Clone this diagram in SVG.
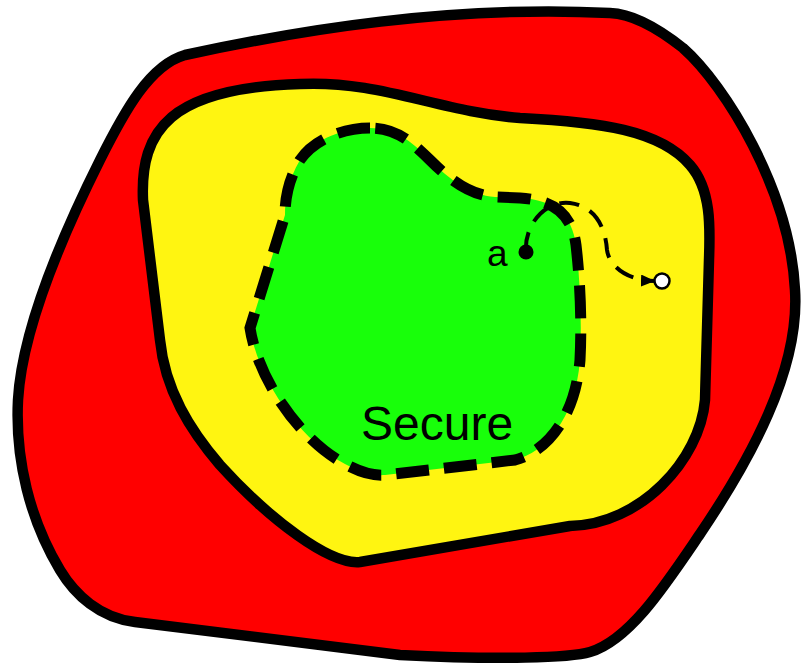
<svg xmlns="http://www.w3.org/2000/svg" width="802" height="667" viewBox="0 0 802 667">
<style>
.zone{stroke:#000;stroke-width:10.5;stroke-linejoin:round}
.lbl{font-family:"Liberation Sans",Arial,sans-serif;fill:#000}
</style>
<defs>
<marker id="ah" markerWidth="14" markerHeight="12" refX="13" refY="6" orient="auto" markerUnits="userSpaceOnUse">
<path d="M0,0 L14,6 L0,12 Z" fill="#000"/>
</marker>
</defs>
<rect width="802" height="667" fill="#fff"/>
<g id="outer">
<path class="zone" fill="#ff0000" d="M185,55 C300,30 450,5 610,13 Q640,14 683,48 C725,85 790,190 795,290 C800,370 750,460 700,534 C666,584 630,640 590,652 C570,658 500,660 400,655 L135,622 C100,618 75,595 60,570 C30,520 15,460 18,400 C22,330 60,240 100,160 C125,110 150,65 185,55 Z"/>
</g>
<g id="middle">
<path class="zone" fill="#fff511" d="M143,200 C140,130 170,88 300,84 C380,80 440,112 520,118 C600,122 660,130 690,165 C712,190 710,230 709,260 L705,400 C700,460 640,525 570,526 L360,562 C330,565 270,520 220,465 C190,430 165,390 160,340 Z"/>
</g>
<g id="secure">
<path fill="#18ff0a" stroke="#000" stroke-width="11" stroke-dasharray="33 15" d="M370,128 C345,128 315,138 300,160 C288,180 285,200 285,215 L250,328 C258,380 300,440 345,464 C360,472 372,476 385,475 L515,460 C545,452 575,420 580,360 C582,320 580,280 576,245 C572,215 555,200 520,198 L495,197 C470,195 450,180 430,160 C410,140 395,128 370,128 Z"/>
<text class="lbl" x="361" y="440" font-size="48">Secure</text>
</g>
<g id="connectors">
<path fill="none" stroke="#000" stroke-width="4" stroke-dasharray="20 12" marker-end="url(#ah)" d="M526,252 C524,225 545,200 570,203 C600,207 606,235 607,250 C609,265 625,280 654,281"/>
</g>
<g id="point-a">
<circle cx="526" cy="252" r="7.5" fill="#000"/>
<text class="lbl" x="487" y="266" font-size="37">a</text>
</g>
<g id="point-b">
<circle cx="662" cy="281" r="7.5" fill="#fff" stroke="#000" stroke-width="2.5"/>
</g>
</svg>
